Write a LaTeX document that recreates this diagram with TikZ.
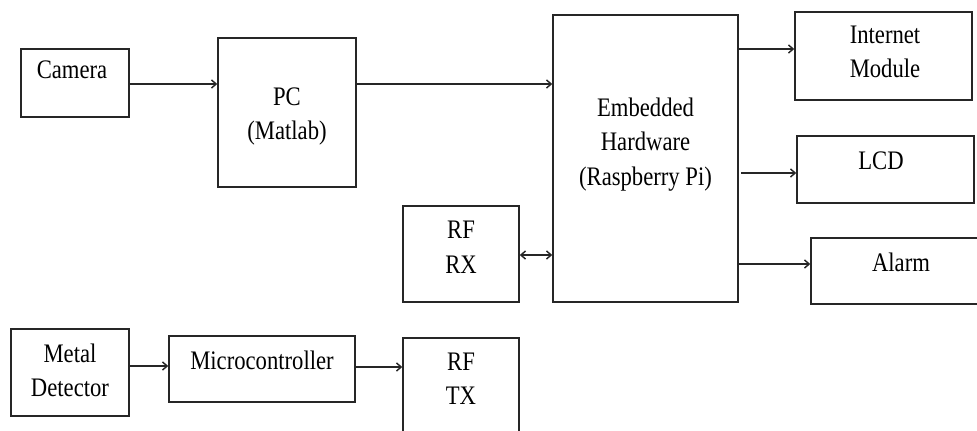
\documentclass[tikz,border=0pt]{standalone}
\usepackage{fontspec}
\setmainfont{Liberation Serif}
\usetikzlibrary{arrows.meta}
\newcommand\stxt[1]{\scalebox{1}[1.18]{\fontsize{17}{22.2}\selectfont\begin{tabular}{@{}c@{}}#1\end{tabular}}}
\tikzset{
  blk/.style={draw=black!85, line width=1.1pt, rectangle, inner sep=0pt},
  lbl/.style={align=center, inner sep=0pt},
  conn/.style={draw=black!85, line width=1.1pt, -{Straight Barb[length=3.5pt,width=6pt]}},
  conn2/.style={draw=black!85, line width=1.1pt, {Straight Barb[length=3.5pt,width=6pt]}-{Straight Barb[length=3.5pt,width=6pt]}}
}
\begin{document}
\begin{tikzpicture}[x=0.75pt,y=-0.75pt]
\useasboundingbox (0,0) rectangle (977,430);
\clip (0,0) rectangle (977,430);
\fill[white] (0,0) rectangle (977,430);
% boxes
\node[blk, minimum width=108*0.75pt, minimum height=68*0.75pt] (cam) at (75,83) {};
\node[blk, minimum width=138*0.75pt, minimum height=149*0.75pt] (pc) at (287,112.5) {};
\node[blk, minimum width=185*0.75pt, minimum height=287*0.75pt] (emb) at (645.5,158.5) {};
\node[blk, minimum width=177*0.75pt, minimum height=88*0.75pt] (inet) at (883.5,56) {};
\node[blk, minimum width=177*0.75pt, minimum height=67*0.75pt] (lcd) at (885.5,169.5) {};
\node[blk, minimum width=180*0.75pt, minimum height=66*0.75pt] (alarm) at (901,271) {};
\node[blk, minimum width=116*0.75pt, minimum height=96*0.75pt] (rfrx) at (461,254) {};
\node[blk, minimum width=116*0.75pt, minimum height=110*0.75pt] (rftx) at (461,393) {};
\node[blk, minimum width=118*0.75pt, minimum height=87*0.75pt] (metal) at (70,372.5) {};
\node[blk, minimum width=186*0.75pt, minimum height=66*0.75pt] (micro) at (262,369) {};
% labels
\node[lbl] (tcam) at (72,72) {\stxt{Camera}};
\node[lbl] (tpc) at (287,115.5) {\stxt{PC\\(Matlab)}};
\node[lbl] (temb) at (645.5,144) {\stxt{Embedded\\Hardware\\(Raspberry Pi)}};
\node[lbl] (tinet) at (885,53.5) {\stxt{Internet\\Module}};
\node[lbl] (tlcd) at (881,163) {\stxt{LCD}};
\node[lbl] (talarm) at (901,265) {\stxt{Alarm}};
\node[lbl] (trfrx) at (461,249) {\stxt{RF\\RX}};
\node[lbl] (trftx) at (461,380.5) {\stxt{RF\\TX}};
\node[lbl] (tmetal) at (70,372.5) {\stxt{Metal\\Detector}};
\node[lbl] (tmicro) at (262,363) {\stxt{Microcontroller}};
% connectors
\draw[conn] (cam.east |- 0,84) -- (pc.west |- 0,84);
\draw[conn] (pc.east |- 0,84) -- (emb.west |- 0,84);
\draw[conn] (emb.east |- 0,49) -- (inet.west |- 0,49);
\coordinate (lcdstart) at (741,173);
\draw[conn] (lcdstart) -- (lcd.west |- lcdstart);
\draw[conn] (emb.east |- 0,264) -- (alarm.west |- 0,264);
\draw[conn2] (rfrx.east |- 0,255) -- (emb.west |- 0,255);
\draw[conn] (metal.east |- 0,366) -- (micro.west |- 0,366);
\draw[conn] (micro.east |- 0,367) -- (rftx.west |- 0,367);
\end{tikzpicture}
\end{document}
